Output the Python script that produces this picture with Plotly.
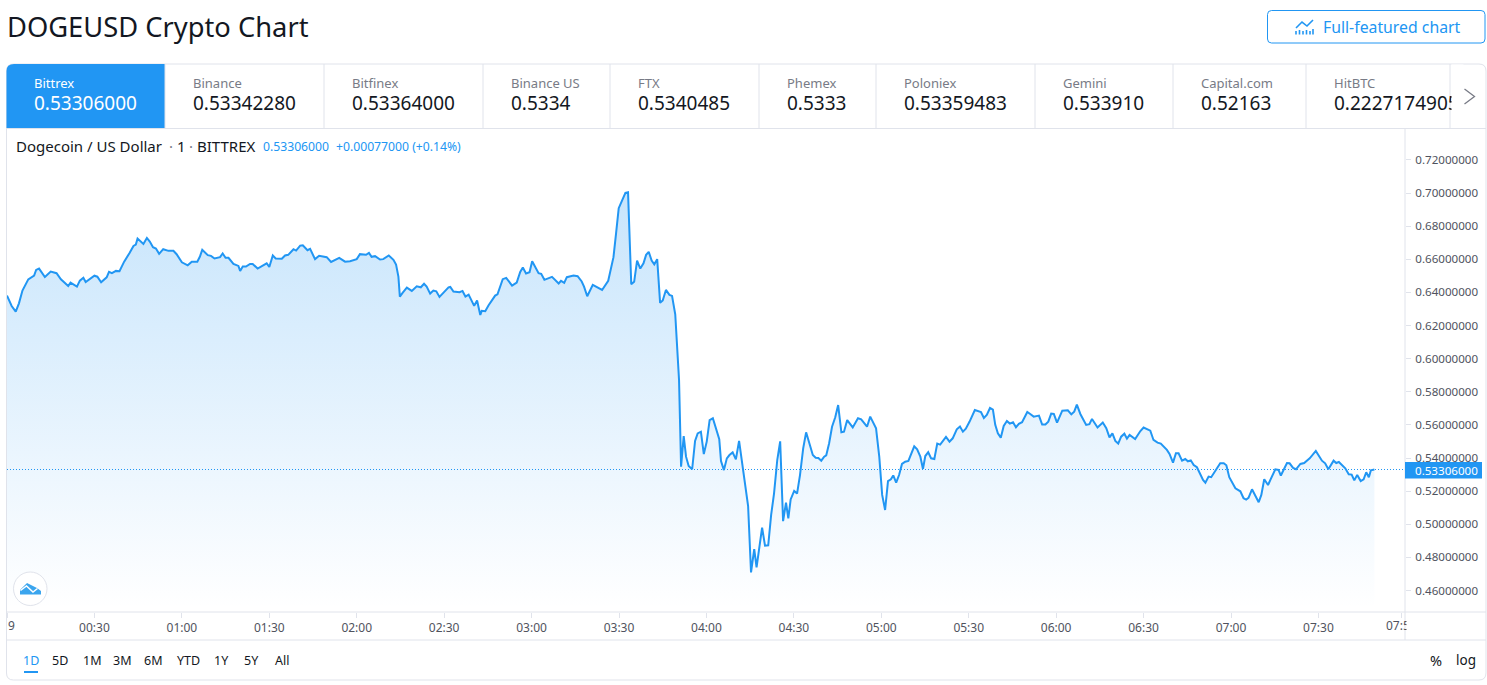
import pandas as pd
import plotly.graph_objects as go

W = 1487
H = 685
FONT = "Noto Sans"
BLUE = "#2196f3"
BORDER = "#e0e3eb"
DARK = "#131722"
GRAY = "#787b86"

# minutes after midnight of the price line vertices
minutes = [
    0, 1.6, 3, 4.1, 5.3, 7.3, 9.3, 10, 11, 13, 15, 17, 18.5, 21, 21.8, 24, 25, 26.2, 27, 30,
    31, 32.3, 34.2, 35, 36, 37.4, 38.6, 40.2, 42, 43.4, 44.2, 44.8, 46.8, 48, 49, 50.1, 51.1, 52.2, 53.6, 55.4,
    57.1, 58.2, 60, 62, 63.4, 65.3, 66.2, 67, 68.9, 70, 71.2, 73.1, 74, 75, 76, 77.7, 79.4, 80, 80.9, 82,
    83.4, 84.3, 86, 89.1, 90, 91.2, 92.2, 94.3, 95.4, 96.5, 98.3, 99.2, 100.6, 101.5, 103.1, 104, 105.7, 107.1, 109.7, 111.2,
    114, 116, 117.7, 120, 121.1, 123.2, 124.2, 125.1, 126.3, 128, 129.1, 131, 132.6, 133.5, 134.3, 134.8,
    135.8, 137.2, 138.9, 140.6, 142, 143.1, 144, 145.2, 146.3, 147.3, 148.4, 151.5, 152.1, 153.2, 155.3, 156.3, 157.3, 158.4, 160.3, 161.3,
    162.4, 162.9, 164.1, 165.2, 167.5, 168.3, 170.1, 171.3, 173.3, 174.9, 176.1, 177, 178.1, 179.3, 180.2, 182.4, 183.3, 184.4, 187, 188.7,
    189.3, 190.1, 191.2, 192.1, 194.4, 195.8, 197.2, 198, 199.1, 201, 203.5, 204.2, 206.3, 208.1, 209, 209.9, 212.2, 213.1, 214.2, 215.2,
    216.2, 217.3, 218.4, 219.3, 220.2, 221.2, 222.1, 223.1, 224.1, 225, 226.1, 227.3, 228.2, 229.3, 230.6,
    231.3, 232.2, 233, 233.9, 235.1, 236.1, 237, 238.1, 239.1, 240.1, 241.1, 242.2, 244.4, 245, 246, 247, 247.9, 249, 250.1, 251.2,
    252.2, 253.3, 254.3, 255.3, 256.4, 257.2, 259.1, 260.1, 261.2, 262.2, 263.2, 264.3, 265.3, 266.3, 267.3, 268.1, 268.9, 270.1, 271.1, 272.1,
    273.2, 274.2, 276.5, 277.5, 278.4, 279.4, 280.4, 281.1, 282.1, 283.1, 284.2, 285.2, 286.3, 287.2, 288.3, 290.2, 292, 293.1, 295.1, 296.2,
    298.2, 299.3, 300.3, 301.3, 302.3, 303.3, 304.1, 305.1, 306.1, 307.1, 308.2, 309.3, 311.3, 312.3, 313.4, 314.3, 315.1, 316.1, 317.1, 318.2,
    319.2, 320.2, 322.2, 323.4, 324.5, 325.9, 327, 328, 329, 330.3, 332.1, 334.2, 335.2, 336.2, 337.3, 338.3, 339.1, 340, 341, 342,
    343.1, 344.1, 345.2, 346.2, 347.2, 348.3, 350.1, 351.1, 352.3, 354.1, 355.2, 356.3, 357.3, 358.3, 359.2, 360.3, 362.1, 364, 365.2, 366.2,
    367.1, 368.3, 370.3, 371.4, 372.3, 374.2, 376, 377.2, 378.3, 379.3, 380.3, 381.3, 382.3, 383.4, 384.3, 385.2, 387.1, 388.9, 390, 392.3,
    393.4, 394.8, 395.9, 398, 398.9, 400.1, 401.1, 402, 403.2, 404.3, 405.2, 406.2, 407.2, 408.3, 409.5, 410.4, 411.2, 412.3, 413.2, 414.3,
    416.3, 417.5, 418.4, 419.4, 420.3, 421.5, 423.2, 424.3, 425.2, 426, 427.2, 429.5, 430.4, 431.4, 432.7, 435.2, 436.3, 437.1, 439.2, 440.1,
    441.3, 442.3, 443.8, 445.1, 447, 449.1, 451.2, 452.3, 453.4, 455.2, 456.1, 457, 459.2, 460.4, 461.4, 462.3, 463.3, 464.5, 465.5, 466.4,
    467.3, 468, 469.2,
]

prices = [
    .6381, .6318, .6284, .6334, .6411, .6479, .6501, .6536, .6544, .6493, .6526, .6516, .6479, .6439, .6459, .6435, .6471, .6489, .6463, .6501,
    .6495, .6461, .6491, .6524, .6516, .6530, .6528, .6586, .6637, .6681, .6689, .6725, .6693, .6729, .6707, .6673, .6665, .6633, .6661, .6651,
    .6651, .6631, .6582, .6564, .6586, .6586, .6617, .6657, .6625, .6621, .6605, .6613, .6635, .6609, .6609, .6572, .6560, .6530, .6556, .6556,
    .6572, .6572, .6544, .6576, .6554, .6623, .6605, .6603, .6623, .6627, .6661, .6653, .6683, .6685, .6655, .6663, .6601, .6621, .6613, .6584,
    .6609, .6586, .6588, .6601, .6631, .6627, .6639, .6615, .6619, .6599, .6601, .6623, .6597, .6568, .6496, .6375,
    .6399, .6429, .6409, .6437, .6431, .6452, .6435, .6393, .6411, .6407, .6373, .6431, .6433, .6405, .6401, .6409, .6375, .6387, .6319, .6351,
    .6264, .6289, .6287, .6321, .6381, .6389, .6480, .6488, .6441, .6460, .6524, .6550, .6514, .6522, .6588, .6516, .6512, .6476, .6494, .6460,
    .6454, .6470, .6458, .6492, .6502, .6498, .6466, .6435, .6377, .6446, .6419, .6415, .6470, .6613, .6758, .6909, .7001, .7005, .6450, .6464,
    .6592, .6544, .6576, .6627, .6645, .6592, .6570, .6601, .6337, .6351, .6415, .6385, .6379, .6268, .5871,
    .5348, .5533, .5408, .5352, .5332, .5503, .5549, .5559, .5424, .5499, .5629, .5640, .5513, .5382, .5327, .5398, .5418, .5434, .5392, .5503,
    .5368, .5227, .5110, .4709, .4850, .4740, .4979, .4871, .4873, .5056, .5187, .5388, .5501, .5019, .5130, .5036, .5150, .5201, .5185, .5297,
    .5458, .5555, .5418, .5402, .5400, .5384, .5408, .5416, .5489, .5589, .5646, .5720, .5555, .5559, .5629, .5585, .5640, .5633, .5589, .5650,
    .5579, .5408, .5177, .5086, .5261, .5271, .5295, .5251, .5297, .5364, .5378, .5382, .5470, .5452, .5408, .5334, .5412, .5435, .5398, .5394,
    .5487, .5481, .5527, .5499, .5519, .5573, .5590, .5559, .5577, .5620, .5690, .5678, .5642, .5660, .5702, .5692, .5600, .5549, .5523, .5594,
    .5624, .5608, .5616, .5586, .5606, .5616, .5678, .5666, .5650, .5656, .5602, .5602, .5620, .5668, .5666, .5614, .5686, .5688, .5664, .5680,
    .5722, .5666, .5600, .5604, .5636, .5584, .5614, .5580, .5525, .5549, .5503, .5487, .5529, .5547, .5517, .5539, .5515, .5563, .5584, .5565,
    .5509, .5493, .5487, .5449, .5425, .5372, .5429, .5429, .5384, .5394, .5380, .5386, .5358, .5344, .5304, .5267, .5251, .5288, .5284, .5312,
    .5368, .5368, .5356, .5284, .5257, .5217, .5199, .5157, .5149, .5159, .5211, .5133, .5177, .5272, .5237, .5332, .5328, .5294, .5370, .5368,
    .5340, .5332, .5364, .5370, .5398, .5443, .5384, .5368, .5332, .5384, .5370, .5376, .5338, .5302, .5300, .5265, .5298, .5261, .5271, .5314,
    .5284, .5326, .53306,
]

price_ticks = [.46, .48, .50, .52, .54, .56, .58, .60, .62, .64, .66, .68, .70, .72]
time_ticks = ["00:30", "01:00", "01:30", "02:00", "02:30", "03:00", "03:30", "04:00",
              "04:30", "05:00", "05:30", "06:00", "06:30", "07:00", "07:30"]

exchanges = ["Bittrex", "Binance", "Bitfinex", "Binance US", "FTX", "Phemex",
             "Poloniex", "Gemini", "Capital.com", "HitBTC"]
exchange_prices = ["0.53306000", "0.53342280", "0.53364000", "0.5334", "0.5340485", "0.5333",
                   "0.53359483", "0.533910", "0.52163", "0.2227174905"]
exchange_x = [33, 192, 351, 510, 637, 786, 903, 1062, 1200, 1333]
tab_edges = [165, 324, 483, 610, 759, 876, 1035, 1173, 1306, 1450]

ranges = ["1D", "5D", "1M", "3M", "6M", "YTD", "1Y", "5Y", "All"]
range_x = [31, 60, 92, 122, 153, 188, 222, 251, 282]

day = pd.Timestamp("2021-05-19")
times = day + pd.to_timedelta(minutes, unit="m")
tick_times = [pd.Timestamp(f"2021-05-19 {t}") for t in time_ticks]


def px(x):
    return x / W


def py(y):
    return 1 - y / H


def label(fig, x, y, text, size=13, color=DARK, anchor="left", **kw):
    fig.add_annotation(x=px(x), y=py(y), xref="paper", yref="paper", text=text, showarrow=False,
                       xanchor=anchor, yanchor="middle", borderpad=0, align="left",
                       font=dict(family=FONT, size=size, color=color), **kw)


def rule(fig, x0, y0, x1, y1, color=BORDER, width=1):
    fig.add_shape(type="line", xref="paper", yref="paper", x0=px(x0), y0=py(y0), x1=px(x1), y1=py(y1),
                  line=dict(color=color, width=width), layer="above")


def pen(points, close=False):
    return "M" + " L".join(f"{px(x):.5f},{py(y):.5f}" for x, y in points) + (" Z" if close else "")


def rounded(x0, y0, x1, y1, r):
    return (f"M{px(x0 + r)},{py(y0)} L{px(x1 - r)},{py(y0)} Q{px(x1)},{py(y0)} {px(x1)},{py(y0 + r)} "
            f"L{px(x1)},{py(y1 - r)} Q{px(x1)},{py(y1)} {px(x1 - r)},{py(y1)} "
            f"L{px(x0 + r)},{py(y1)} Q{px(x0)},{py(y1)} {px(x0)},{py(y1 - r)} "
            f"L{px(x0)},{py(y0 + r)} Q{px(x0)},{py(y0)} {px(x0 + r)},{py(y0)} Z")


fig = go.Figure()

# price line and gradient under it
fig.add_trace(go.Scatter(
    x=times, y=prices, mode="lines", fill="tozeroy",
    line=dict(color=BLUE, width=2),
    fillgradient=dict(type="vertical", start=0.70, stop=0.45,
                      colorscale=[[0, "rgba(33,150,243,0.25)"], [1, "rgba(33,150,243,0)"]]),
    showlegend=False, hoverinfo="skip",
))
fig.add_hline(y=prices[-1], line=dict(color=BLUE, width=1, dash="1px,2px"))

fig.update_layout(
    width=W, height=H, margin=dict(l=0, r=0, t=0, b=0),
    paper_bgcolor="white", plot_bgcolor="white", showlegend=False,
    font=dict(family=FONT),
    xaxis=dict(
        domain=[px(7), px(1405)], type="date",
        range=[day, day + pd.Timedelta(minutes=479.7)],
        tickvals=[day] + tick_times + [day + pd.Timedelta(minutes=478.6)],
        ticktext=[""] + time_ticks + [""],
        ticks="outside", ticklen=5, tickcolor=BORDER, showgrid=False, zeroline=False,
        tickfont=dict(family=FONT, size=12, color="#50535e"), tickangle=0,
    ),
    yaxis=dict(
        domain=[py(612), py(129)], side="right", range=[0.4470, 0.7387],
        tickvals=price_ticks, tickformat=".8f",
        ticks="outside", ticklen=5, tickcolor=BORDER, showgrid=False, zeroline=False,
        ticklabelstandoff=2,
        tickfont=dict(family=FONT, size=11.6, color="#50535e"),
    ),
)

# widget frame
fig.add_shape(type="path", xref="paper", yref="paper", path=rounded(6.5, 64, 1486, 680, 7),
              line=dict(color=BORDER, width=1), layer="below")
fig.add_shape(type="path", xref="paper", yref="paper", layer="below", fillcolor=BLUE,
              line=dict(width=0),
              path=f"M{px(14)},{py(64)} L{px(165)},{py(64)} L{px(165)},{py(128)} L{px(6.5)},{py(128)} "
                   f"L{px(6.5)},{py(71)} Q{px(6.5)},{py(64)} {px(14)},{py(64)} Z")
for x in tab_edges:
    rule(fig, x, 64, x, 128)
rule(fig, 6.5, 128.5, 1486, 128.5)
rule(fig, 6.5, 612, 1486, 612)
rule(fig, 6.5, 640, 1486, 640)
rule(fig, 1405, 129, 1405, 640)

# title and button
label(fig, 6, 26.5, "DOGEUSD Crypto Chart", size=27.3)
fig.add_shape(type="path", xref="paper", yref="paper", path=rounded(1267.5, 10.5, 1485, 43, 4),
              line=dict(color=BLUE, width=1), layer="above")
label(fig, 1321.5, 27, "Full-featured chart", size=15.8, color=BLUE)
fig.add_shape(type="path", xref="paper", yref="paper", layer="above", line=dict(color=BLUE, width=1.6),
              path=pen([(1296, 28), (1302, 22), (1307, 26), (1313, 20)]))
for x, y in [(1296, 31), (1299.5, 30), (1303, 31), (1306.5, 30), (1310, 31), (1313, 29)]:
    rule(fig, x, y, x, 34.5, color=BLUE, width=1.6)

# exchange tabs
for i, name in enumerate(exchanges):
    label(fig, exchange_x[i], 83, name, size=13, color="white" if i == 0 else GRAY)
    label(fig, exchange_x[i], 103, exchange_prices[i], size=19, color="white" if i == 0 else DARK)
# hides the end of the HitBTC price where the tab strip cuts it
label(fig, 1451, 96, " ", size=13, bgcolor="white", width=11, height=62)
fig.add_shape(type="path", xref="paper", yref="paper", layer="above", line=dict(color=GRAY, width=1.3),
              path=pen([(1464.5, 89), (1474.5, 96.5), (1464.5, 104)]))

# series legend
label(fig, 15, 146.5, "Dogecoin / US Dollar", size=15)
label(fig, 167.5, 146.5, "·", size=15, color=GRAY)
label(fig, 176, 146.5, "1", size=15)
label(fig, 188.5, 146.5, "·", size=15, color=GRAY)
label(fig, 196, 146.5, "BITTREX", size=15)
label(fig, 262, 147, f"{prices[-1]:.8f}", size=12.2, color=BLUE)
label(fig, 335, 147, "+0.00077000 (+0.14%)", size=12.2, color=BLUE)

# clipped edge labels of the time scale
label(fig, 6.5, 625, "9", size=12, color="#50535e")
label(fig, 1385, 625, "07:5", size=12, color="#50535e")
label(fig, 1406, 625, " ", size=12, bgcolor="white", width=10, height=14)

# last price tag
fig.add_shape(type="rect", xref="paper", yref="paper", x0=px(1405), x1=px(1482), y0=py(462), y1=py(478.5),
              fillcolor=BLUE, line=dict(width=0), layer="above")
label(fig, 1414, 470.5, f"{prices[-1]:.8f}", size=11.6, color="white")

# logo
LOGO = "#3ba5ee"
fig.add_shape(type="circle", xref="paper", yref="paper", x0=px(13.5), x1=px(47), y0=py(572), y1=py(605.5),
              fillcolor="white", line=dict(color=BORDER, width=1), layer="above")
fig.add_shape(type="path", xref="paper", yref="paper", layer="above", fillcolor=LOGO, line=dict(width=0),
              path=pen([(20, 594.5), (20, 590), (27, 583), (33, 586), (37, 588), (41, 591), (41, 594.5)], close=True))
fig.add_shape(type="path", xref="paper", yref="paper", layer="above", line=dict(color="white", width=1.5),
              path=pen([(20.5, 590.5), (26.5, 586), (33, 592), (37.5, 588.5)]))

# range selector
for i, r in enumerate(ranges):
    label(fig, range_x[i], 660, r, size=12.5, color=BLUE if i == 0 else DARK, anchor="center")
rule(fig, 24, 672, 38, 672, color=BLUE, width=2)
label(fig, 1436, 660, "%", size=14.5, anchor="center")
label(fig, 1466, 660, "log", size=13.5, anchor="center")

fig.write_html("out.html", config=dict(displayModeBar=False),
               post_script="document.body.style.margin='0';document.body.style.overflow='hidden';")
